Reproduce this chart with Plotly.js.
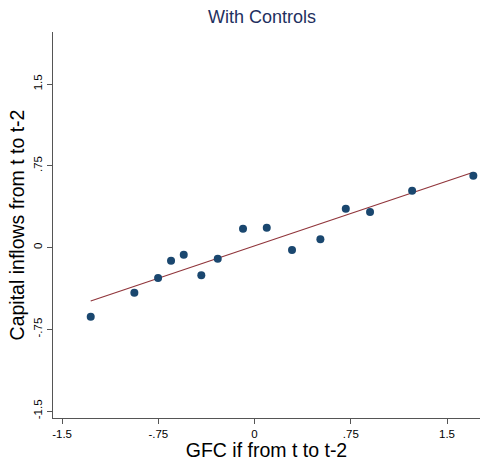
<!DOCTYPE html>
<html>
<head>
<meta charset="utf-8">
<script src="https://cdn.plot.ly/plotly-3.0.1.min.js"></script>
<style>html,body{margin:0;padding:0;background:#fff;}#chart{width:480px;height:461px;}</style>
</head>
<body>
<div id="chart"></div>
<script>
const binX = [-1.277, -0.937, -0.752, -0.651, -0.552, -0.415, -0.287, -0.090, 0.095, 0.292, 0.513, 0.711, 0.900, 1.228, 1.705];
const binY = [-0.635, -0.415, -0.280, -0.121, -0.066, -0.255, -0.103, 0.173, 0.182, -0.023, 0.075, 0.356, 0.326, 0.521, 0.659];
const fitX = [-1.277, 1.705];
const fitY = [-0.491, 0.690];
const tickVals = [-1.5, -0.75, 0, 0.75, 1.5];
const tickText = ["-1.5", "-.75", "0", ".75", "1.5"];

const font = "Liberation Sans, Arial, sans-serif";
const traces = [
  {x: fitX, y: fitY, type: "scatter", mode: "lines", line: {color: "#90353b", width: 1.2}, hoverinfo: "skip"},
  {x: binX, y: binY, type: "scatter", mode: "markers", marker: {color: "#1a476f", size: 8}}
];
const layout = {
  width: 480, height: 461,
  margin: {l: 53, r: 0, t: 32, b: 43},
  paper_bgcolor: "#fff", plot_bgcolor: "#fff",
  showlegend: false,
  font: {family: font, color: "#000"},
  title: {text: "With Controls", font: {family: font, size: 18, color: "#1f3060"}, x: 0.546, xanchor: "center", y: 0.963, yanchor: "middle"},
  xaxis: {
    range: [-1.571, 1.757], tickvals: tickVals, ticktext: tickText,
    showgrid: false, zeroline: false, showline: true, linecolor: "#555", linewidth: 1,
    ticks: "outside", ticklen: 5, tickcolor: "#555",
    tickfont: {size: 11.5, color: "#000"},
    title: {text: "GFC if from t to t-2", font: {size: 19.5, color: "#000"}, standoff: 0}
  },
  yaxis: {
    range: [-1.564, 1.977], tickvals: tickVals, ticktext: tickText, tickangle: -90,
    showgrid: false, zeroline: false, showline: true, linecolor: "#555", linewidth: 1,
    ticks: "outside", ticklen: 5, tickcolor: "#555",
    tickfont: {size: 11.5, color: "#000"},
    title: {text: "Capital inflows from t to t-2", font: {size: 19.5, color: "#000"}, standoff: 2}
  }
};
Plotly.newPlot("chart", traces, layout, {displayModeBar: false, staticPlot: true});
</script>
</body>
</html>
